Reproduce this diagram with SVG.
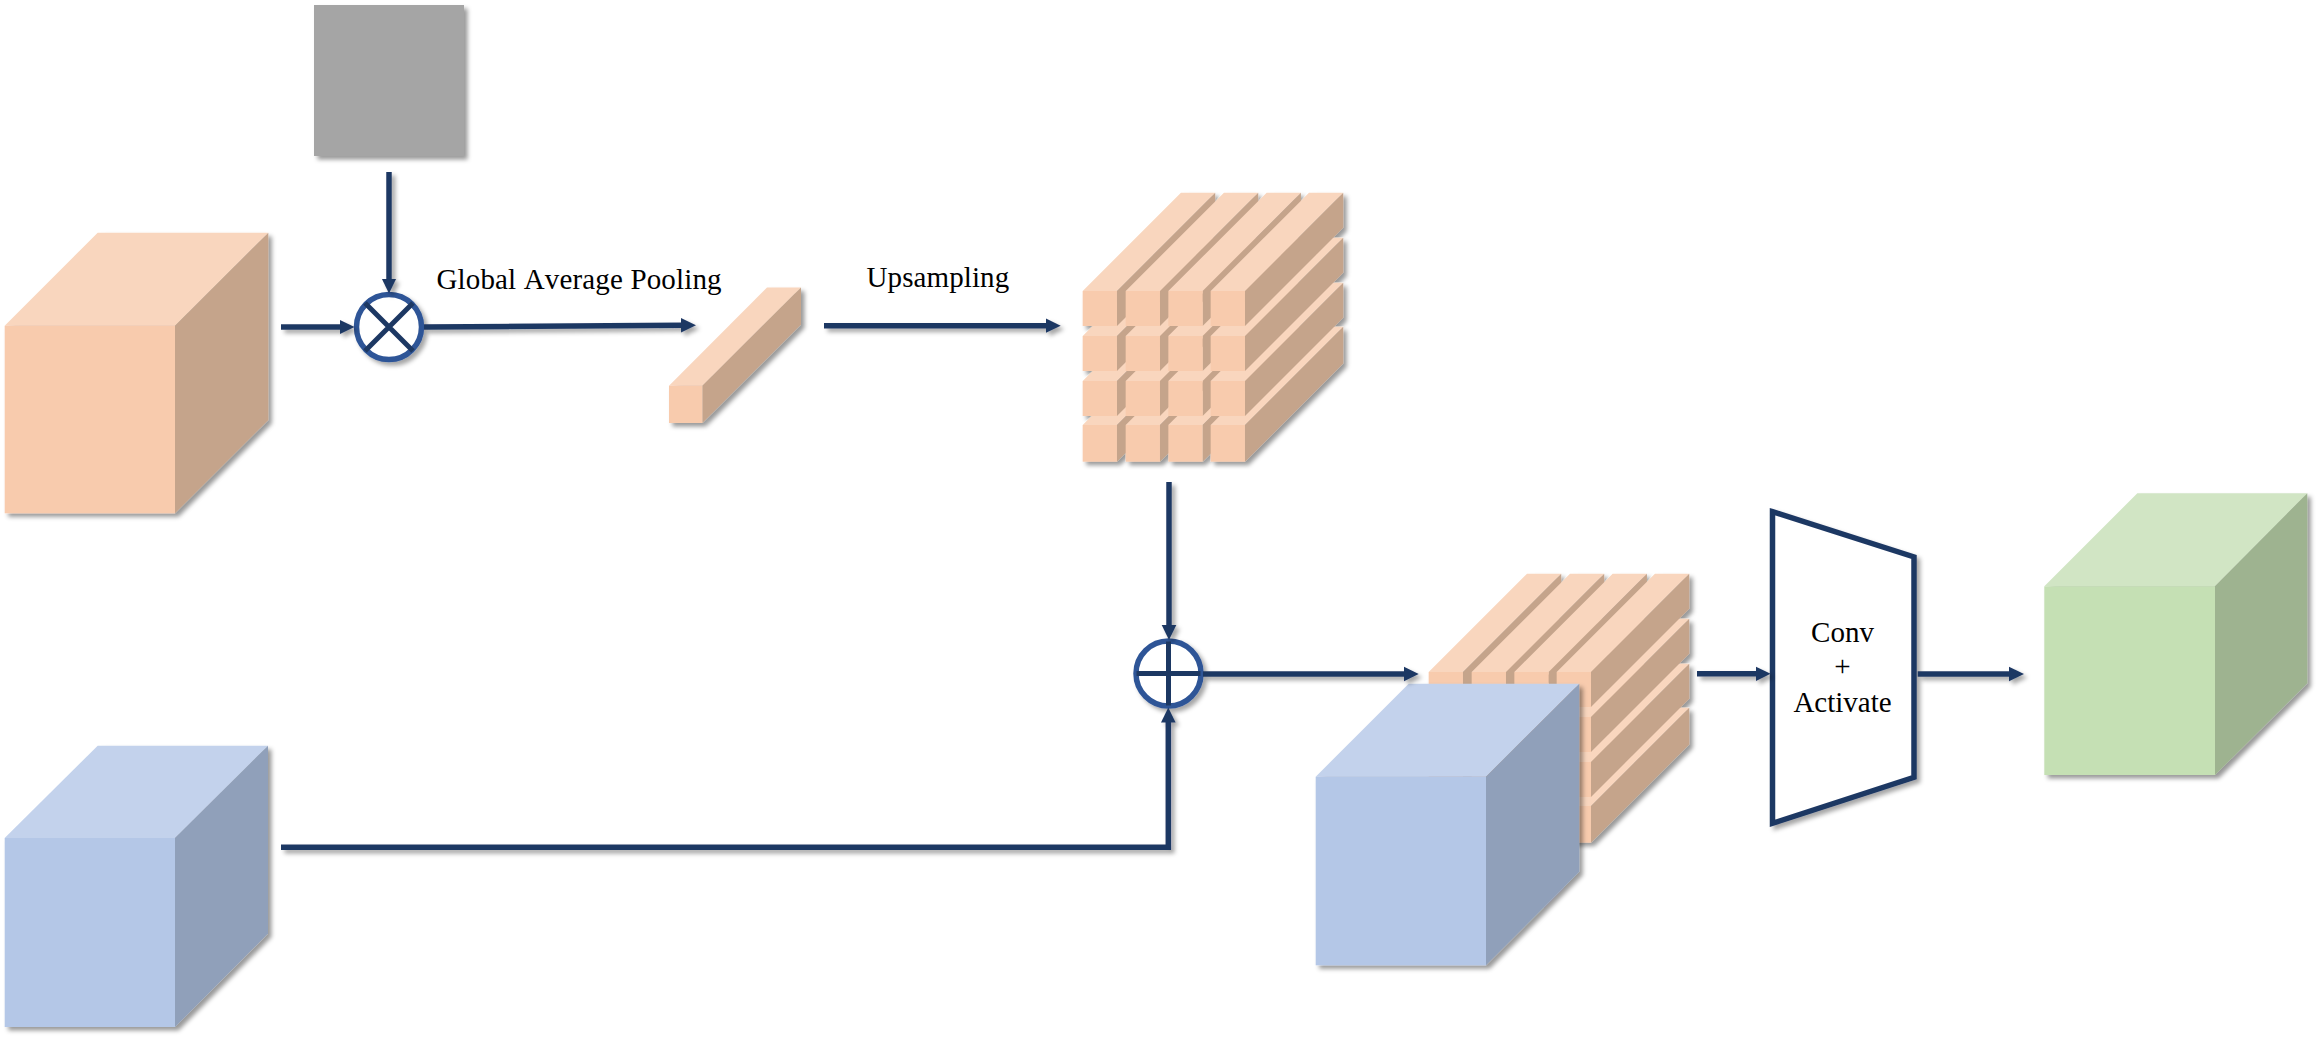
<svg xmlns="http://www.w3.org/2000/svg" xmlns:xlink="http://www.w3.org/1999/xlink" width="2320" height="1041" viewBox="0 0 2320 1041">
<style>
.line{fill:none;stroke:#1f3864;stroke-width:5.5;stroke-linejoin:miter}
.arrow{marker-end:url(#head)}
.ring{fill:#fff;stroke:#2f5597;stroke-width:5.5}
.cross{fill:none;stroke:#1f3864;stroke-width:5}
.lbl{font-family:"Liberation Serif","Times New Roman",serif;font-size:29px;fill:#000;font-kerning:none}
.of{fill:#f8cbad}.ot{fill:#f9d6be}.os{fill:#c5a48b}
.bf{fill:#b4c7e7}.bt{fill:#c3d2ec}.bs{fill:#90a0ba}
.gf{fill:#c5e0b4}.gt{fill:#d1e5c4}.gs{fill:#9eb390}
</style>
<defs>
<filter id="sh" x="-15%" y="-15%" width="130%" height="130%" filterUnits="objectBoundingBox">
<feDropShadow dx="3.5" dy="3.5" stdDeviation="2" flood-color="#000" flood-opacity="0.4"/>
</filter>
<filter id="shl" x="0" y="0" width="2320" height="1041" filterUnits="userSpaceOnUse">
<feDropShadow dx="3.5" dy="3.5" stdDeviation="2" flood-color="#000" flood-opacity="0.35"/>
</filter>
<marker id="head" markerUnits="userSpaceOnUse" markerWidth="16" markerHeight="16" refX="1" refY="8" orient="auto">
<path d="M0 .7L15 8L0 15.3Z" fill="#1f3864"/>
</marker>
<g id="bar">
<polygon class="ot" points="0,0 98.3,-98.3 132.6,-98.3 34.3,0"/>
<polygon class="os" points="34.3,0 132.6,-98.3 132.6,-63.3 34.3,35"/>
<rect class="of" width="34.3" height="35"/>
</g>
<g id="barB">
<polygon class="ot" points="0,0 98.3,-98.3 132.6,-98.3 34.3,0"/>
<polygon class="os" points="34.3,0 132.6,-98.3 132.6,-61.6 34.3,36.7"/>
<rect class="of" width="34.3" height="36.7"/>
</g>
<g id="grid">
<use xlink:href="#barB" x="0" y="134"/><use xlink:href="#barB" x="43" y="134"/><use xlink:href="#barB" x="85.67" y="134"/><use xlink:href="#barB" x="128" y="134"/>
<use xlink:href="#bar" x="0" y="90"/><use xlink:href="#bar" x="43" y="90"/><use xlink:href="#bar" x="85.67" y="90"/><use xlink:href="#bar" x="128" y="90"/>
<use xlink:href="#bar" x="0" y="45"/><use xlink:href="#bar" x="43" y="45"/><use xlink:href="#bar" x="85.67" y="45"/><use xlink:href="#bar" x="128" y="45"/>
<use xlink:href="#bar" x="0" y="0"/><use xlink:href="#bar" x="43" y="0"/><use xlink:href="#bar" x="85.67" y="0"/><use xlink:href="#bar" x="128" y="0"/>
</g>
</defs>
<rect width="2320" height="1041" fill="#fff"/>

<g id="gray-square" filter="url(#sh)"><rect x="314" y="5" width="150" height="151" fill="#a5a5a5"/></g>

<g id="orange-cube" filter="url(#sh)">
<polygon class="ot" points="4.7,325.7 97.7,232.7 268.3,232.7 175,325.7"/>
<polygon class="os" points="175,325.7 268.3,232.7 268.3,420 175,513.3"/>
<rect class="of" x="4.7" y="325.7" width="170.3" height="187.6"/>
</g>

<g id="blue-cube" filter="url(#sh)">
<polygon class="bt" points="4.7,838 97.7,745.7 268,745.7 175,838"/>
<polygon class="bs" points="175,838 268,745.7 268,933.5 175,1027"/>
<rect class="bf" x="4.7" y="838" width="170.3" height="189"/>
</g>

<g id="small-bar" filter="url(#sh)">
<polygon class="ot" points="669,385.7 767,287.5 801,287.5 702.4,385.7"/>
<polygon class="os" points="702.4,385.7 801,287.5 801,324.5 702.4,423"/>
<rect class="of" x="669" y="385.7" width="33.4" height="37.3"/>
</g>

<g id="grid-upsampled" filter="url(#sh)"><use xlink:href="#grid" x="1082.67" y="291"/></g>

<g id="grid-merged" filter="url(#sh)"><use xlink:href="#grid" x="1428.67" y="672"/></g>

<g id="blue-cube-merged" filter="url(#sh)">
<polygon class="bt" points="1315.7,776.7 1408.7,683.7 1579.3,683.7 1486,776.7"/>
<polygon class="bs" points="1486,776.7 1579.3,683.7 1579.3,871.7 1486,965.3"/>
<rect class="bf" x="1315.7" y="776.7" width="170.3" height="188.6"/>
</g>

<g id="conv-activate">
<polygon points="1772.5,511.7 1914,557 1914,777.3 1772.5,823.3" fill="#fff" stroke="#1f3864" stroke-width="5.5" filter="url(#shl)"/>
<text class="lbl" x="1842.5" y="641.7" text-anchor="middle">Conv</text>
<text class="lbl" x="1842.5" y="676" text-anchor="middle">+</text>
<text class="lbl" x="1842.5" y="711.7" text-anchor="middle">Activate</text>
</g>

<g id="green-cube" filter="url(#sh)">
<polygon class="gt" points="2044.3,586.3 2137.3,493.3 2307.3,493.3 2215,586.3"/>
<polygon class="gs" points="2215,586.3 2307.3,493.3 2307.3,683.3 2215,775"/>
<rect class="gf" x="2044.3" y="586.3" width="170.7" height="188.7"/>
</g>

<g id="multiply-op" filter="url(#shl)">
<circle class="ring" cx="389" cy="327" r="32.5"/>
<path class="cross" d="M365 303L413 351M413 303L365 351"/>
</g>

<g id="add-op" filter="url(#shl)">
<circle class="ring" cx="1168.5" cy="673.5" r="32.5"/>
<path class="cross" d="M1136.5 673.5H1200.5M1168.5 641.5V705.5"/>
</g>

<g id="connectors" filter="url(#shl)">
<path class="line arrow" d="M389 172V279.5"/>
<path class="line arrow" d="M281 327H340.5"/>
<path class="line arrow" d="M424 327L682 325.3"/>
<path class="line arrow" d="M824 325.7H1046.7"/>
<path class="line arrow" d="M1169 482V626"/>
<path class="line arrow" d="M281 847.3H1168.3V721.5"/>
<path class="line arrow" d="M1203 674H1404.7"/>
<path class="line arrow" d="M1697 673.8H1756.6"/>
<path class="line arrow" d="M1917.7 674H2010"/>
</g>

<g id="labels">
<text class="lbl" x="436.5" y="289.3" letter-spacing="0.15">Global Average Pooling</text>
<text class="lbl" x="866.5" y="287.3" letter-spacing="0.1">Upsampling</text>
</g>
</svg>
